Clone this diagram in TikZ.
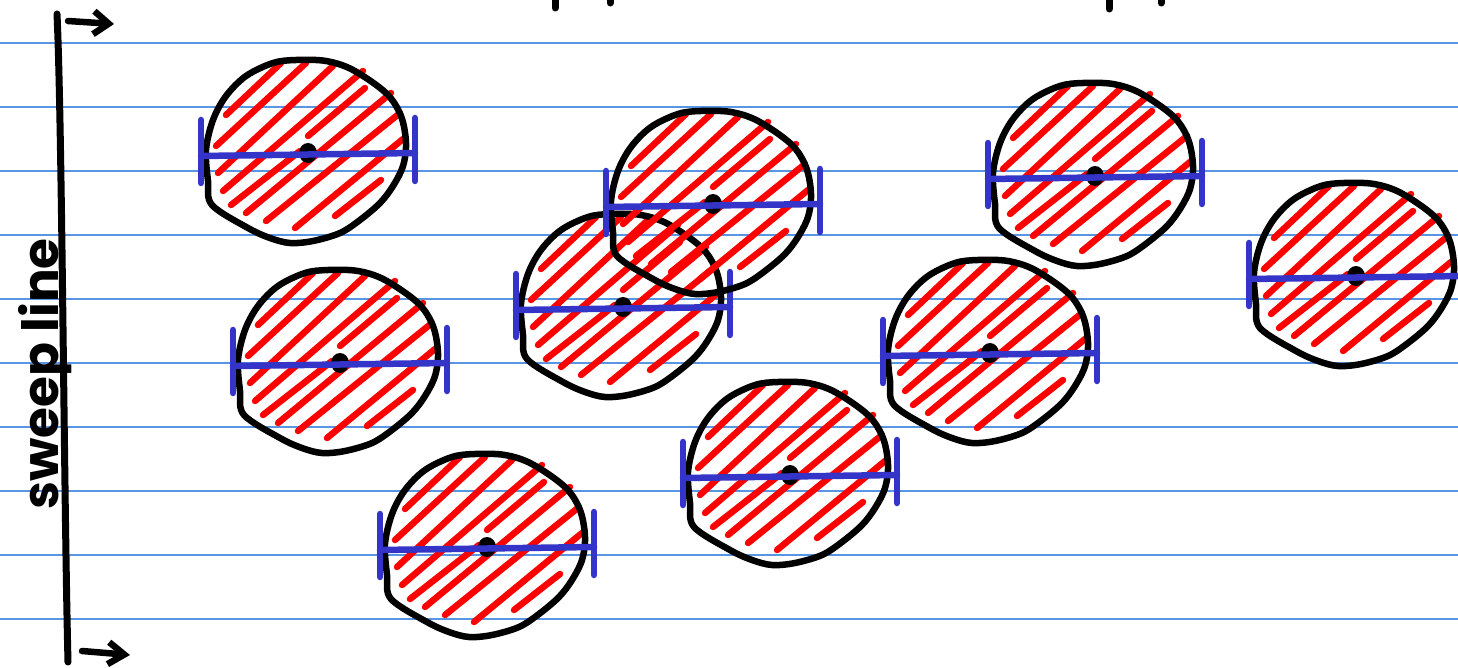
\documentclass[tikz,border=0pt]{standalone}
\usepackage{fontspec}
\setmainfont{Poppins}
\usetikzlibrary{arrows.meta}

\definecolor{ruleblue}{RGB}{88,150,228}
\definecolor{barblue}{RGB}{52,52,200}

\tikzset{
    rim/.style={line width=6.5pt, line join=round},
    hatch/.style={red, line width=6.5pt, line cap=round},
    bar/.style={draw=barblue, line width=6.5pt, line cap=round},
    ruled/.style={draw=ruleblue, line width=1.4pt},
    pics/disc/.style={code={
        \draw[hatch] (-82,-38)--(-27,-90) (-92,-7)--(-2,-90) (-90,20)--(25,-87)
            (-85,38)--(55,-82) (-77,52)--(-8,-2) (0,-17)--(57,-65)
            (-62,60)--(83,-60) (-42,68)--(92,-40) (-13,75)--(95,-14) (27,63)--(73,27);
        \draw[rim] plot[smooth cycle, tension=0.55] coordinates {
            (-102,-3) (-95,-33) (-82,-57) (-62,-77) (-35,-90) (-12,-93) (18,-92)
            (45,-83) (78,-60) (93,-37) (98,-10) (95,13) (85,33) (72,50) (52,67)
            (32,80) (5,88) (-18,90) (-38,85) (-60,75) (-96,52) (-100,28)};
        \fill (0,0) ellipse (9pt and 10pt);
        \draw[bar] (-107,3)--(107,0);
        \draw[bar] (-107,-33)--(-107,30);
        \draw[bar] (107,-35)--(107,28);
    }}
}

\begin{document}
\begin{tikzpicture}[x=1pt, y=-1pt]
            \useasboundingbox (0,0) rectangle (1458,668);
            \clip (0,0) rectangle (1458,668);
            \fill[white] (0,0) rectangle (1458,668);

            \foreach \y in {43,107,...,619}
                \draw[ruled] (0,\y) -- (1458,\y);

            \coordinate (T) at (57,14);
            \coordinate (B) at (68,662);
            \draw[line width=7pt, line cap=round] (T) .. controls (62,120) and (64,500) .. (B);

            \draw[line width=6.5pt, line cap=round, -{Straight Barb[length=15pt, width=23pt]}] (68,21) -- (114,24);
            \draw[line width=6.5pt, line cap=round, -{Straight Barb[length=16pt, width=22pt]}] (82,651) -- (130,655);

            \node[rotate=90, anchor=base, inner sep=0pt] (label) at (58,374) {\fontsize{50}{50}\selectfont\bfseries sweep line};

            \draw[line width=7pt, line cap=round] (555,-2) -- (555,8);
            \draw[line width=7pt, line cap=round] (610,-2) -- (610,3);
            \draw[line width=7pt, line cap=round] (1109,-2) -- (1109,9);
            \draw[line width=7pt, line cap=round] (1161,-2) -- (1161,3);

            \pic at (308,153) {disc};
            \pic at (340,363) {disc};
            \pic at (487,547) {disc};
            \pic at (623,307) {disc};
            \pic at (713,204) {disc};
            \pic at (790,475) {disc};
            \pic at (990,353) {disc};
            \pic at (1095,176) {disc};
            \pic at (1356,276) {disc};
        \end{tikzpicture}
\end{document}
